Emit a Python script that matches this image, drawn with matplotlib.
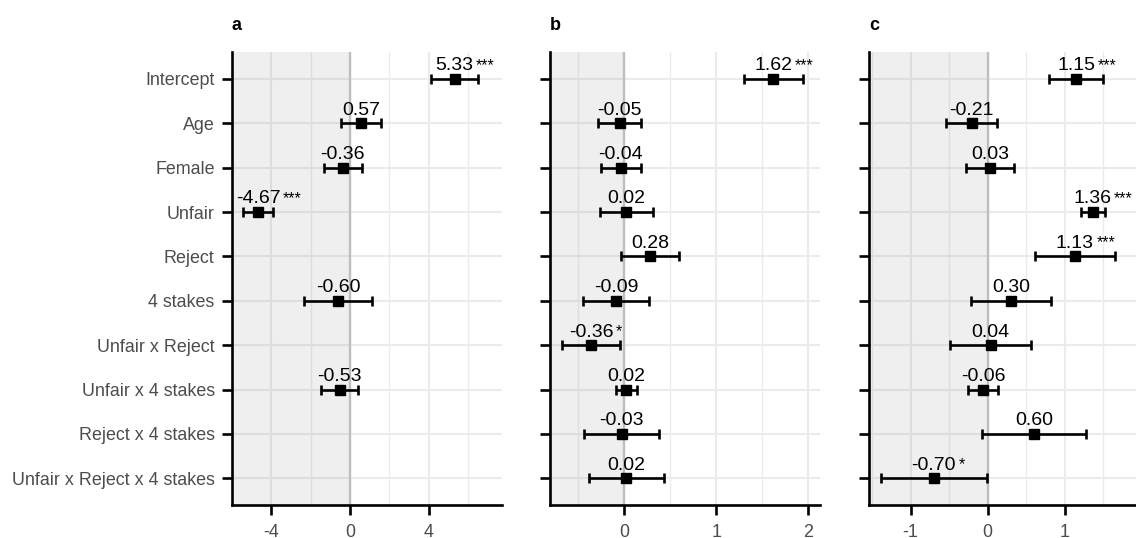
import numpy as np
import matplotlib
matplotlib.use("Agg")
import matplotlib.pyplot as plt

plt.rcParams["font.family"] = ["Liberation Sans", "DejaVu Sans"]
plt.rcParams["axes.unicode_minus"] = False

terms = ["Intercept", "Age", "Female", "Unfair", "Reject", "4 stakes",
         "Unfair x Reject", "Unfair x 4 stakes", "Reject x 4 stakes",
         "Unfair x Reject x 4 stakes"]

nan = np.nan
# panel a
est_a = [5.33, 0.57, -0.36, -4.67, nan, -0.60, nan, -0.53, nan, nan]
lo_a = [4.13, -0.46, -1.33, -5.44, nan, -2.33, nan, -1.45, nan, nan]
hi_a = [6.53, 1.60, 0.61, -3.90, nan, 1.13, nan, 0.39, nan, nan]
sig_a = ["***", "", "", "***", "", "", "", "", "", ""]
# panel b
est_b = [1.62, -0.05, -0.04, 0.02, 0.28, -0.09, -0.36, 0.02, -0.03, 0.02]
lo_b = [1.30, -0.285, -0.255, -0.27, -0.035, -0.45, -0.675, -0.095, -0.435, -0.39]
hi_b = [1.945, 0.185, 0.175, 0.31, 0.595, 0.27, -0.045, 0.135, 0.375, 0.43]
sig_b = ["***", "", "", "", "", "", "*", "", "", ""]
# panel c
est_c = [1.15, -0.21, 0.03, 1.36, 1.13, 0.30, 0.04, -0.06, 0.60, -0.70]
lo_c = [0.80, -0.545, -0.285, 1.205, 0.615, -0.215, -0.485, -0.25, -0.07, -1.385]
hi_c = [1.50, 0.125, 0.345, 1.515, 1.645, 0.815, 0.565, 0.13, 1.27, -0.015]
sig_c = ["***", "", "", "***", "***", "", "", "", "", "*"]

panel_titles = ["a", "b", "c"]
x_ticks = [[-4, 0, 4], [0, 1, 2], [-1, 0, 1]]
x_minor = [[-6, -2, 2, 6], [-0.5, 0.5, 1.5], [-1.5, -0.5, 0.5, 1.5]]
x_limits = [(-6.0, 7.75), (-0.81, 2.127), (-1.538, 1.96)]

W, H = 1136, 538
fig = plt.figure(figsize=(W / 100, H / 100), dpi=100)

panel_px = [(232, 502.3), (550, 820), (869, 1139)]
top_px, bottom_px = 52.3, 505

data = [(est_a, lo_a, hi_a, sig_a), (est_b, lo_b, hi_b, sig_b),
        (est_c, lo_c, hi_c, sig_c)]

n = len(terms)
ypos = np.arange(n, 0, -1)
tick_col = "#4D4D4D"

for k, ((l, r), (est, lo, hi, sig)) in enumerate(zip(panel_px, data)):
    ax = fig.add_axes([l / W, 1 - bottom_px / H, (r - l) / W,
                       (bottom_px - top_px) / H])
    ax.set_xlim(*x_limits[k])
    ax.set_ylim(0.4, n + 0.6)

    # grid
    for xv in x_minor[k]:
        ax.axvline(xv, color="#EBEBEB", lw=1.0, zorder=0)
    for xv in x_ticks[k]:
        ax.axvline(xv, color="#EBEBEB", lw=1.5, zorder=0)
    for yv in ypos:
        ax.axhline(yv, color="#EBEBEB", lw=1.5, zorder=0)
    # negative half shading and zero reference
    ax.axvspan(x_limits[k][0] - 10, 0, color="#808080", alpha=0.125,
               lw=0, zorder=1)
    ax.axvline(0, color="#BEBEBE", lw=1.7, zorder=1.5)

    est = np.array(est, dtype=float)
    lo = np.array(lo, dtype=float)
    hi = np.array(hi, dtype=float)
    m = ~np.isnan(est)
    ax.errorbar(est[m], ypos[m], xerr=[est[m] - lo[m], hi[m] - est[m]],
                fmt="s", color="black", ms=7.5, elinewidth=1.9,
                capsize=3.6, capthick=1.9, zorder=3)

    for i in range(n):
        if not m[i]:
            continue
        t = ax.annotate(f"{est[i]:.2f}", xy=(est[i], ypos[i]),
                        xytext=(0, 6.2), textcoords="offset points",
                        ha="center", va="baseline", fontsize=14,
                        color="black", zorder=4, annotation_clip=False)
        if sig[i]:
            ax.annotate(sig[i], xy=(1, 0), xycoords=t,
                        xytext=(1.8, 3.1), textcoords="offset points",
                        ha="left", va="baseline", fontsize=11.5,
                        color="black", zorder=4, annotation_clip=False)

    ax.set_yticks(ypos)
    if k == 0:
        ax.set_yticklabels(terms)
    else:
        ax.set_yticklabels([])
    ax.set_xticks(x_ticks[k])
    ax.set_xticklabels([f"{v:g}" for v in x_ticks[k]])

    for side in ("top", "right"):
        ax.spines[side].set_visible(False)
    for side in ("left", "bottom"):
        ax.spines[side].set_linewidth(1.9)
        ax.spines[side].set_color("black")
        ax.spines[side].set_zorder(5)
    ax.tick_params(axis="both", length=7, width=1.9, color="black",
                   labelsize=12.9, labelcolor=tick_col)
    ax.tick_params(axis="y", pad=5.5)
    ax.tick_params(axis="x", pad=7)
    ax.set_facecolor("white")

    fig.text(l / W, 1 - 30.5 / H, panel_titles[k], fontsize=13,
             fontweight="bold", ha="left", va="baseline")

fig.savefig("out.png", dpi=100)
